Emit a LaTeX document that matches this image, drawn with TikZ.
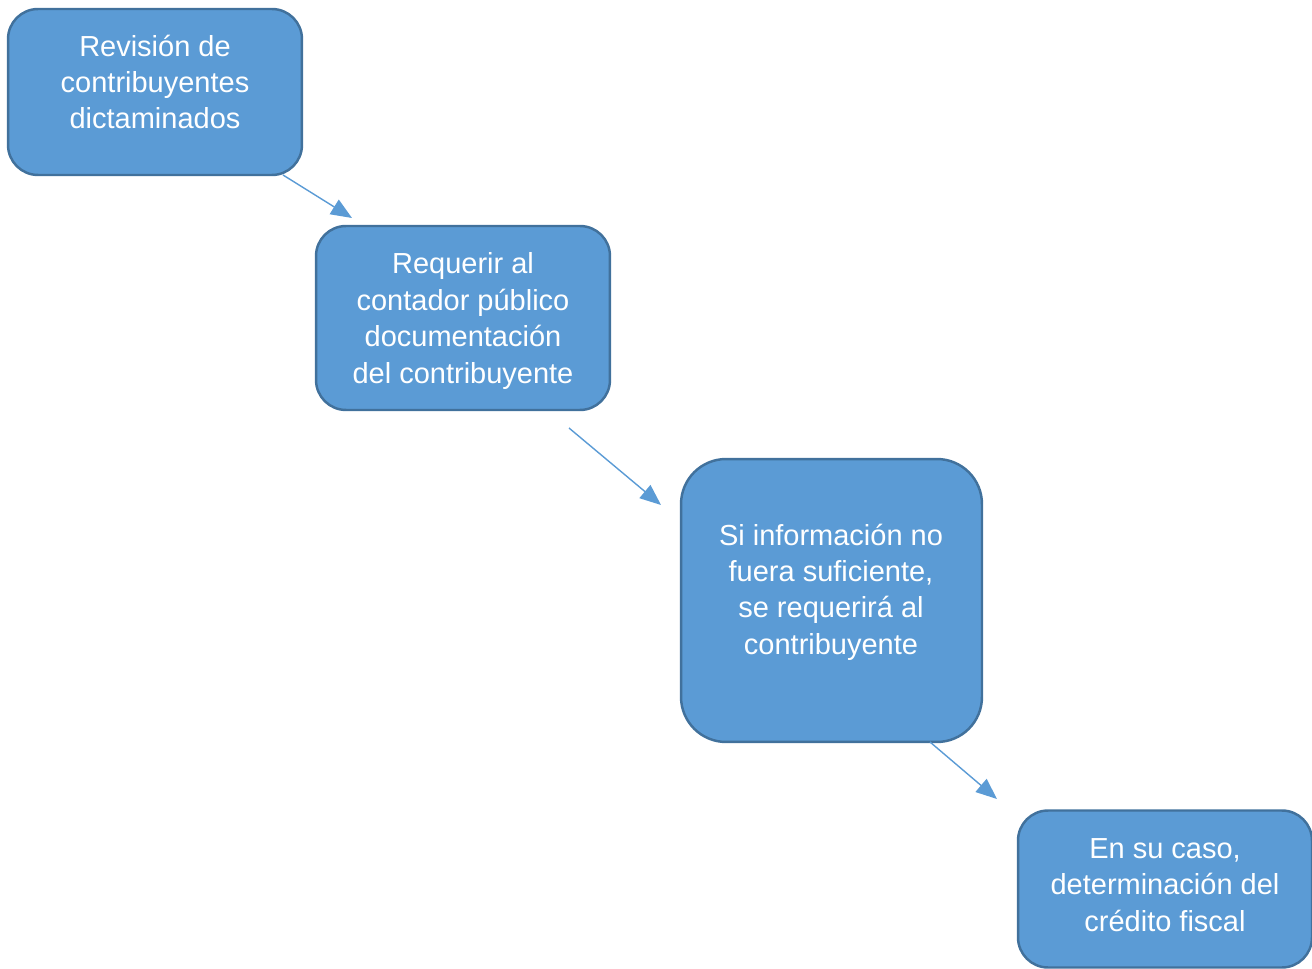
\documentclass[tikz,border=0pt]{standalone}
\usepackage{fontspec}
\setmainfont{Liberation Sans}
\usetikzlibrary{arrows.meta}
\definecolor{boxfill}{HTML}{5B9BD5}
\definecolor{boxline}{HTML}{41719C}
\tikzset{
  stepbox/.style={draw=boxline, fill=boxfill, line width=1.4pt, rounded corners=0.6cm, inner sep=0pt},
  steptext/.style={text=white, align=center, font=\fontsize{16.5}{20.7}\selectfont},
  flow/.style={draw=boxfill, line width=0.8pt, -{Triangle[length=0.42cm, width=0.34cm]}}
}
\begin{document}
\begin{tikzpicture}[x=0.02cm, y=-0.02cm]
      \useasboundingbox (0,0) rectangle (1312,969);
      % boxes
      \node[stepbox, minimum width=5.88cm, minimum height=3.32cm] (b1) at (155,92) {};
      \node[stepbox, minimum width=5.88cm, minimum height=3.68cm] (b2) at (463,318) {};
      \node[stepbox, minimum width=6.02cm, minimum height=5.66cm, rounded corners=0.9cm] (b3) at (831.5,600.5) {};
      \node[stepbox, minimum width=5.88cm, minimum height=3.14cm] (b4) at (1165,889) {};
      % texts
      \node[steptext] (t1) at (155,82) {Revisión de\\contribuyentes\\dictaminados};
      \node[steptext] (t2) at (463,321) {Requerir al\\contador público\\documentación\\del contribuyente};
      \node[steptext] (t3) at (831,592) {Si información no\\fuera suficiente,\\se requerirá al\\contribuyente};
      \node[steptext] (t4) at (1165,885) {En su caso,\\determinación del\\crédito fiscal};
      % arrows
      \coordinate (a1) at (283,175);
      \coordinate (e1) at (352,218);
      \coordinate (a2) at (569,428);
      \coordinate (e2) at (661,505);
      \coordinate (a3) at (930,742);
      \coordinate (e3) at (997,799);
      \draw[flow] (a1) -- (e1);
      \draw[flow] (a2) -- (e2);
      \draw[flow] (a3) -- (e3);
    \end{tikzpicture}
\end{document}
